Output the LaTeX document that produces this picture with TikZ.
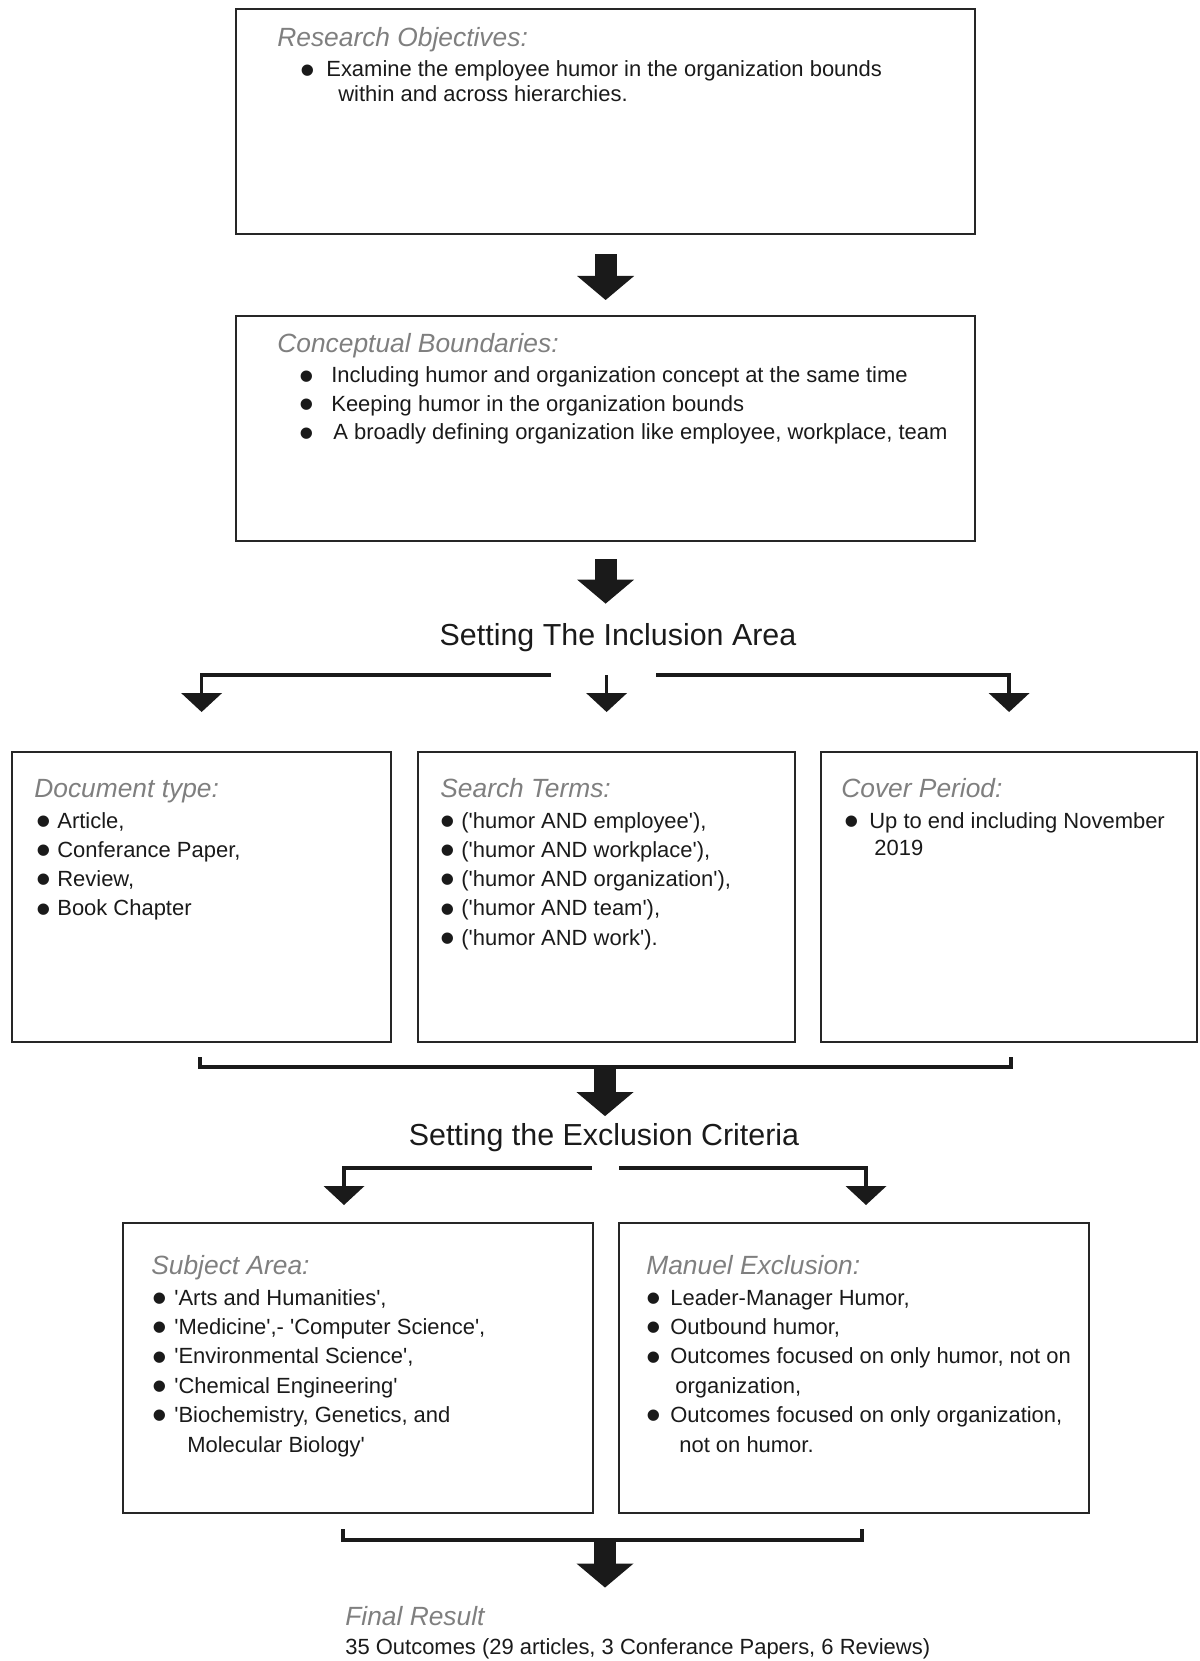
\documentclass[tikz,border=0pt]{standalone}
\usepackage{fontspec}
\setmainfont{Liberation Sans}
\usepackage{graphicx}
\usetikzlibrary{arrows.meta}

\newdimen\pu \pu=0.2mm
\definecolor{titlegray}{HTML}{7F7F7F}
\definecolor{ink}{HTML}{1A1A1A}
\definecolor{frame}{HTML}{262626}

\newcommand{\sq}{\textquotesingle}
\newcommand{\bul}[1]{\makebox[#1\pu][l]{\raisebox{-0.33em}{\scalebox{1.9}{\textbullet}}}}
\newcommand{\itm}[2]{\hbox{\bul{#1}#2}}
\newcommand{\contline}[2]{\hbox{\hspace*{#1\pu}#2}}
\newcommand{\itemlines}[2]{\vtop{\baselineskip=#1\pu\relax #2}}

\begin{document}
\begin{tikzpicture}[x=0.2mm, y=-0.2mm,
  box/.style 2 args={draw=frame, line width=0.44mm, minimum width=#1, minimum height=#2, anchor=north west, inner sep=0},
  title/.style={font=\fontsize{15}{18}\selectfont\itshape, text=titlegray, anchor=base west, inner sep=0},
  body/.style={font=\fontsize{12.5}{15}\selectfont, text=ink, anchor=base west, inner sep=0},
  heading/.style={font=\fontsize{17.3}{20}\selectfont, text=ink, anchor=base, inner sep=0},
  blockarrow/.style={draw=ink, line width=4.4mm, -{Triangle[length=4.8mm, width=11.4mm, line width=0pt]}},
  thinarrow/.style={draw=ink, line width=0.7mm, -{Triangle[length=3.8mm, width=8.2mm, line width=0pt]}},
  bracket/.style={draw=ink, line width=0.7mm}]
  \useasboundingbox (0,0) rectangle (1199,1661);

  \node[box={147.8mm}{45mm}] (objbox) at (235,8) {};
  \node[title] (objtitle) at (277,47) {Research Objectives:};
  \node[body] (objlist) at (300,77) {\itemlines{25}{%
    \itm{26}{Examine the employee humor in the organization bounds}%
    \contline{38}{within and across hierarchies.}}};

  \node[box={147.8mm}{45mm}] (concbox) at (235,315) {};
  \node[title] (conctitle) at (277,353) {Conceptual Boundaries:};
  \node[body] (conclist) at (299,383) {\itemlines{28.5}{%
    \itm{32}{Including humor and organization concept at the same time}%
    \itm{32}{Keeping humor in the organization bounds}%
    \itm{34}{A broadly defining organization like employee, workplace, team}}};

  \draw[blockarrow, shorten <=3.8mm, shorten >=3mm] (objbox.south) -- (concbox.north);

  \node[heading] (incl) at (618,645) {Setting The Inclusion Area};
  \draw[blockarrow, shorten <=3.4mm, shorten >=3.8mm] (concbox.south) -- (concbox.south |- incl.north);

  \node[box={75.8mm}{58mm}] (docbox) at (11,751) {};
  \node[title] (doctitle) at (34,797) {Document type:};
  \node[body] (doclist) at (36,828) {\itemlines{29.3}{%
    \itm{21}{Article,}%
    \itm{21}{Conferance Paper,}%
    \itm{21}{Review,}%
    \itm{21}{Book Chapter}}};

  \node[box={75.4mm}{58mm}] (schbox) at (417,751) {};
  \node[title] (schtitle) at (440,797) {Search Terms:};
  \node[body] (schlist) at (440,828) {\itemlines{29.3}{%
    \itm{21}{(\sq humor AND employee\sq),}%
    \itm{21}{(\sq humor AND workplace\sq),}%
    \itm{21}{(\sq humor AND organization\sq),}%
    \itm{21}{(\sq humor AND team\sq),}%
    \itm{21}{(\sq humor AND work\sq).}}};

  \node[box={75.2mm}{58mm}] (perbox) at (820,751) {};
  \node[title] (pertitle) at (841,797) {Cover Period:};
  \node[body] (perlist) at (844,828) {\itemlines{27}{%
    \itm{25}{Up to end including November}%
    \contline{30}{2019}}};

  \coordinate (inl) at (551,675);
  \coordinate (inr) at (656,675);
  \draw[thinarrow, shorten >=7.8mm] (inl) -| (docbox.north);
  \draw[thinarrow, shorten >=7.8mm] (schbox.north |- inl) -- (schbox.north);
  \draw[thinarrow, shorten >=7.8mm] (inr) -| (perbox.north);

  \coordinate (brinl) at (200,1057);
  \coordinate (brinr) at (1011,1057);
  \coordinate (brinm) at (605,1067);
  \draw[bracket] (brinl) -- ++(0,10) -| (brinr);

  \node[heading] (excl) at (604,1145) {Setting the Exclusion Criteria};
  \draw[blockarrow, shorten >=1.3mm] (brinm) -- (brinm |- excl.north);

  \coordinate (exl) at (592,1168);
  \coordinate (exlend) at (344,1205);
  \coordinate (exr) at (619,1168);
  \coordinate (exrend) at (866,1205);
  \draw[thinarrow] (exl) -| (exlend);
  \draw[thinarrow] (exr) -| (exrend);

  \node[box={94mm}{58mm}] (subbox) at (122,1222) {};
  \node[title] (subtitle) at (151,1274) {Subject Area:};
  \node[body] (sublist) at (152,1305) {\itemlines{29.4}{%
    \itm{22}{\sq Arts and Humanities\sq,}%
    \itm{22}{\sq Medicine\sq,- \sq Computer Science\sq,}%
    \itm{22}{\sq Environmental Science\sq,}%
    \itm{22}{\sq Chemical Engineering\sq}%
    \itm{22}{\sq Biochemistry, Genetics, and}%
    \contline{35}{Molecular Biology\sq}}};

  \node[box={94mm}{58mm}] (manbox) at (618,1222) {};
  \node[title] (mantitle) at (646,1274) {Manuel Exclusion:};
  \node[body] (manlist) at (646,1305) {\itemlines{29.4}{%
    \itm{24}{Leader-Manager Humor,}%
    \itm{24}{Outbound humor,}%
    \itm{24}{Outcomes focused on only humor, not on}%
    \contline{29}{organization,}%
    \itm{24}{Outcomes focused on only organization,}%
    \contline{33}{not on humor.}}};

  \coordinate (brexl) at (343,1529);
  \coordinate (brexr) at (862,1529);
  \coordinate (brexm) at (605,1540);
  \draw[bracket] (brexl) -- ++(0,11) -| (brexr);

  \node[title] (restitle) at (345,1625) {Final Result};
  \node[body] (restext) at (345,1654) {35 Outcomes (29 articles, 3 Conferance Papers, 6 Reviews)};
  \draw[blockarrow, shorten >=3.6mm] (brexm) -- (brexm |- restitle.north);
\end{tikzpicture}
\end{document}
